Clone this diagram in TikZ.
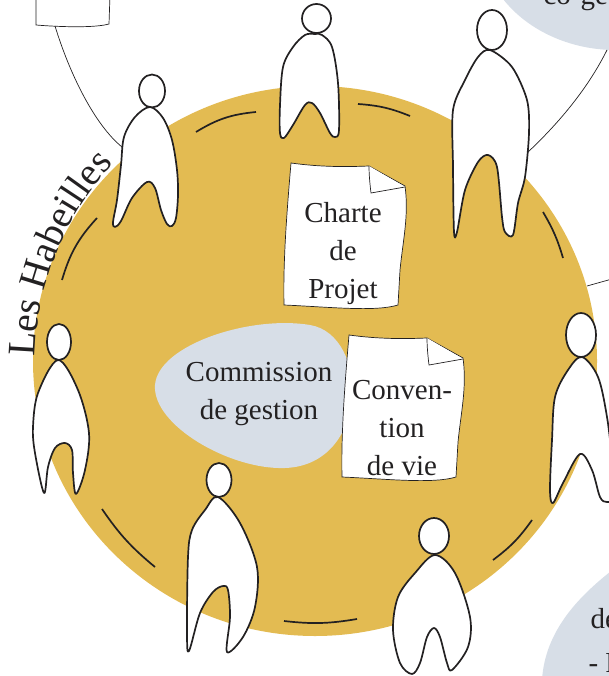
\documentclass[tikz,border=0pt]{standalone}
\usepackage{fontspec}
\setmainfont{Liberation Serif}
\usetikzlibrary{decorations.text}
\definecolor{ruche}{HTML}{E3BB52}
\definecolor{brume}{HTML}{D7DEE7}
\definecolor{encre}{HTML}{232122}
\tikzset{
	personne/.style={draw=encre,line width=1.7pt,fill=white,line join=round},
	tiret/.style={draw=encre,line width=1.7pt},
	trait/.style={draw=encre,line width=0.7pt},
	feuille/.style={draw=encre,line width=0.7pt,fill=white},
	legende/.style={text=encre,align=center,font=\fontsize{29}{38}\selectfont},
}
% une feuille au coin plie
\newcommand{\feuillet}[2]{
	\begin{scope}[shift={(#1,#2)}]
		\draw[feuille] (291,163) .. controls (320,167) and (345,167) .. (369,166) -- (405,186)
			.. controls (409,215) and (403,240) .. (400,270) -- (398,305)
			.. controls (375,312) and (330,307) .. (284,305)
			.. controls (283,260) and (287,210) .. (291,163) -- cycle;
		\draw[feuille] (369,166) .. controls (369,175) and (370,185) .. (371,193) -- (405,187);
	\end{scope}
}
\begin{document}
\begin{tikzpicture}[x=1pt,y=-1pt]
	\useasboundingbox (0,0) rectangle (609,676);
	\fill[ruche] (315,361) ellipse [x radius=282,y radius=275];
	% bulles et liens
	\fill[brume] (500,-5) .. controls (525,30) and (570,50) .. (615,50) -- (615,-5) -- cycle;
	\fill[brume] (615,568) .. controls (580,595) and (545,630) .. (542,680) -- (615,680) -- cycle;
	\fill[brume] (155,385) .. controls (158,345) and (250,315) .. (310,325)
		.. controls (370,335) and (370,465) .. (285,468)
		.. controls (230,470) and (152,425) .. (155,385) -- cycle;
	\draw[trait] (36,-5) -- (36,25) .. controls (60,27) and (95,28) .. (109,24) -- (110,-5);
	\coordinate (boite) at (55,26);
	\coordinate (gauche) at (122,147);
	\coordinate (bulle) at (607,50);
	\coordinate (droite) at (527,153);
	\coordinate (bord) at (587,286);
	\coordinate (sortie) at (612,279);
	\draw[trait] (boite) .. controls (70,75) and (95,125) .. (gauche);
	\draw[trait] (droite) .. controls (560,122) and (588,88) .. (bulle);
	\draw[trait] (bord) -- (sortie);
	% tirets du cercle
	\draw[tiret] (196,132) to[bend left=13] (256,112);
	\draw[tiret] (358,104) to[bend left=9] (410,116);
	\draw[tiret] (543,212) to[bend left=7] (563,258);
	\draw[tiret] (532,520) to[bend left=9] (493,560);
	\draw[tiret] (357,619) to[bend left=8] (284,621);
	\draw[tiret] (155,567) to[bend left=8] (102,509);
	\draw[tiret] (62,280) to[bend left=13] (97,218);
	\feuillet{0}{0}
	\feuillet{58}{172}
	% les habitants
	\draw[personne] (152,91) ellipse [x radius=13,y radius=16.5];
	\draw[personne] plot[smooth cycle,tension=0.55] coordinates {(150,107) (135,117) (124,137) (121,165) (117,200) (113,222) (115,227) (121,221) (132,198) (147,182) (155,188) (161,210) (167,224) (172,226) (176,218) (178,195) (177,170) (172,140) (163,118)};
	\draw[personne] (316.5,18.5) ellipse [x radius=14.5,y radius=14.5];
	\draw[personne] plot[smooth cycle,tension=0.55] coordinates {(315,34) (305,35) (293,47) (283,67) (280,105) (280,133) (284,138) (293,125) (305,105) (312,103) (320,113) (330,133) (335,137) (339,130) (338,83) (332,47) (322,35)};
	\draw[personne] (492,30) ellipse [x radius=15,y radius=20];
	\draw[personne] plot[smooth cycle,tension=0.5] coordinates {(490,50) (512,67) (527,100) (529,133) (525,177) (518,203) (513,235) (505,232) (502,217) (497,167) (488,155) (478,162) (465,190) (457,232) (454,232) (453,167) (453,110) (465,80) (478,57)};
	\draw[personne] (59,342) ellipse [x radius=12,y radius=18];
	\draw[personne] plot[smooth cycle,tension=0.55] coordinates {(58,360) (78,390) (89,433) (85,470) (76,494) (73,473) (72,450) (65,443) (55,448) (48,467) (44,493) (35,453) (33,427) (38,393)};
	\draw[personne] (219,480) ellipse [x radius=12.5,y radius=17];
	\draw[personne] plot[smooth cycle,tension=0.55] coordinates {(218,497) (240,523) (257,567) (255,607) (243,637) (227,652) (230,617) (228,590) (223,586) (213,592) (200,613) (189,651) (187,633) (188,557) (192,530) (205,510)};
	\draw[personne] (434,536) ellipse [x radius=15,y radius=18];
	\draw[personne] plot[smooth cycle,tension=0.55] coordinates {(435,555) (455,573) (470,617) (468,647) (452,670) (447,663) (440,637) (434,628) (427,637) (420,663) (412,674) (400,663) (393,630) (398,597) (415,573)};
	\draw[personne] (581,335) ellipse [x radius=15,y radius=22];
	\draw[personne] plot[smooth cycle,tension=0.55] coordinates {(582,357) (598,377) (607,417) (612,460) (614,497) (607,502) (600,497) (592,470) (580,454) (563,483) (553,503) (550,490) (552,440) (555,397) (568,370)};
	% textes
	\node[legende] (charte) at (343,254) {Charte\\de\\Projet};
	\node[legende] (convention) at (402,428) {Conven-\\tion\\de vie};
	\node[legende] (commission) at (259,394) {Commission\\de gestion};
	\node[legende,anchor=base west] (cogestion) at (540,5) {co-ge};
	\node[legende,anchor=base west] (de) at (587,628) {de};
	\node[legende,anchor=base west] (tiretf) at (585,672) {- F};
	\path[decorate,decoration={text along path,text color=encre,text={|\fontsize{39}{39}\selectfont|Les Habeilles}}]
		(35,357) .. controls (36,290) and (65,210) .. (120,158);
\end{tikzpicture}
\end{document}
